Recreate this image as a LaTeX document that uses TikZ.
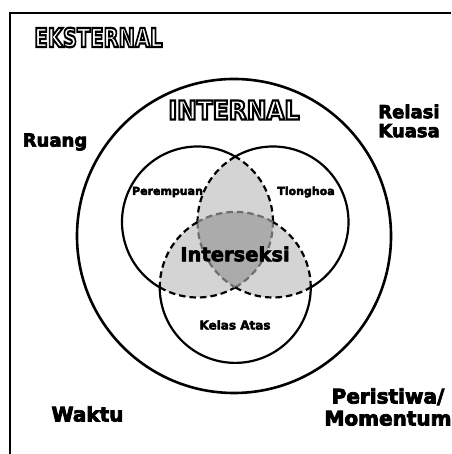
\documentclass[tikz,border=0pt]{standalone}
\usepackage{fontspec}
\setmainfont{DejaVu Sans}
\usepackage{graphicx}
\usetikzlibrary{positioning}
\definecolor{lensgray}{HTML}{D4D4D4}
\definecolor{coregray}{HTML}{ABABAB}
\definecolor{dashgray}{HTML}{6E6E6E}
\newcommand{\vennr}{75.5}
% white letters with a black outline (text render mode 2)
\newcommand{\hollow}[2]{\scalebox{#1}[1]{\textcolor{white}{\special{pdf:literal direct 0 0 0 RG 2.2 w 2 Tr}#2\special{pdf:literal direct 0 Tr 0.4 w}}}}
% extra heavy black letters
\newcommand{\heavy}[2]{\special{pdf:literal direct 0 0 0 RG #1 w 2 Tr}#2\special{pdf:literal direct 0 Tr 0.4 w}}

\tikzset{
  ring/.style={line width=2.6pt},
  venn/.style={line width=2.2pt},
  inner/.style={line width=2.2pt, dash pattern=on 6.5pt off 4pt},
  title/.style={font=\fontsize{26}{26}\selectfont\bfseries, inner sep=0pt},
  side/.style={font=\fontsize{18}{19}\selectfont\bfseries, inner sep=0pt},
  big/.style={font=\fontsize{20}{22}\selectfont\bfseries, inner sep=0pt},
  small/.style={font=\fontsize{11}{12}\selectfont\bfseries, inner sep=0pt},
}

\begin{document}
\begin{tikzpicture}[x=1pt, y=1pt]
\useasboundingbox (0,0) rectangle (451,454);

% Frame (top and left edge)
\draw[line width=2.5pt] (10,0) -- (10,441) -- (451,441);

% Outer ring
\coordinate (core) at (234,218);
\draw[ring] (core) circle (157);

% Venn centres
\coordinate (pc) at (197.5,232);
\coordinate (tc) at (273,232);
\coordinate (kc) at (235.25,166.6);

% Pairwise overlaps
\begin{scope}
  \clip (pc) circle (\vennr);
  \fill[lensgray] (tc) circle (\vennr);
  \fill[lensgray] (kc) circle (\vennr);
\end{scope}
\begin{scope}
  \clip (tc) circle (\vennr);
  \fill[lensgray] (kc) circle (\vennr);
\end{scope}
% Triple overlap
\begin{scope}
  \clip (pc) circle (\vennr);
  \clip (tc) circle (\vennr);
  \fill[coregray] (kc) circle (\vennr);
\end{scope}

% Outer arcs of the three sets
\draw[venn] ([shift={(60:\vennr)}]pc) arc[start angle=60, end angle=240, radius=\vennr];
\draw[venn] ([shift={(-60:\vennr)}]tc) arc[start angle=-60, end angle=120, radius=\vennr];
\draw[venn] ([shift={(180:\vennr)}]kc) arc[start angle=180, end angle=360, radius=\vennr];

% Inner (dashed) arcs
\foreach \c/\a in {pc/-120, tc/120, kc/0} {
  \draw[inner] ([shift={(\a:\vennr)}]\c) arc[start angle=\a, delta angle=60, radius=\vennr];
  \draw[inner, dashgray] ([shift={(\a+60:\vennr)}]\c) arc[start angle=\a+60, delta angle=60, radius=\vennr];
  \draw[inner] ([shift={(\a+120:\vennr)}]\c) arc[start angle=\a+120, delta angle=60, radius=\vennr];
}

% Labels
\node[side] (ruang) at (55,312) {\heavy{0.7}{Ruang}};
\node[side, align=left] (relasi) at (409,333) {\heavy{0.7}{Relasi\\Kuasa}};
\node[small] (perempuan) at (167.5,262) {\heavy{0.45}{Perempuan}};
\node[small] (tionghoa) at (306,262) {\heavy{0.45}{Tionghoa}};
\node[font=\fontsize{19.5}{20}\selectfont\bfseries, inner sep=0pt] (interseksi) at (235,200) {\heavy{0.6}{Interseksi}};
\node[font=\fontsize{12}{13}\selectfont\bfseries, inner sep=0pt] (kelas) at (235,129) {\heavy{0.45}{Kelas Atas}};
\node[big] (waktu) at (87.5,40) {\heavy{0.8}{Waktu}};
\node[big, align=center] (peristiwa) at (388,47) {\heavy{0.8}{Peristiwa/\\Momentum}};
\node[title] (eksternal) at (98.5,416.5) {\hollow{0.75}{EKSTERNAL}};
\node[title] (internal) at (234,344) {\hollow{0.9}{INTERNAL}};

\end{tikzpicture}
\end{document}
